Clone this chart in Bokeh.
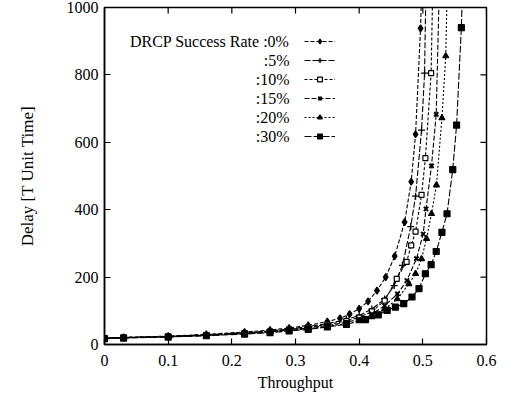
import math
from bokeh.plotting import figure
from bokeh.models import Range1d, FixedTicker, Legend, LegendItem, Label
from bokeh.embed import file_html
from bokeh.resources import INLINE

# ---- data ----
series_names = [":0%", ":5%", ":10%", ":15%", ":20%", ":30%"]
legend_title = "DRCP Success Rate "

x_0 = [0, 0.03, 0.10, 0.16, 0.22, 0.26, 0.29, 0.32, 0.35, 0.37, 0.385, 0.40, 0.414, 0.428, 0.4417, 0.4558, 0.4714, 0.4817, 0.4886, 0.4964, 0.502]
y_0 = [19, 21, 25, 30, 37, 43, 49, 57, 68, 78, 90, 106, 128, 160, 200, 262, 363, 483, 624, 938, 1300]

x_5 = [0, 0.03, 0.10, 0.16, 0.22, 0.26, 0.29, 0.32, 0.35, 0.38, 0.40, 0.42, 0.44, 0.455, 0.468, 0.481, 0.4886, 0.498, 0.5027, 0.507]
y_5 = [19, 21, 24, 29, 35, 40, 46, 53, 62, 74, 86, 105, 135, 175, 235, 350, 440, 636, 805, 1300]

x_10 = [0, 0.03, 0.10, 0.16, 0.22, 0.26, 0.29, 0.32, 0.35, 0.38, 0.40, 0.42, 0.44, 0.459, 0.4745, 0.4817, 0.4886, 0.498, 0.504, 0.513, 0.518]
y_10 = [19, 21, 24, 28, 34, 39, 45, 51, 59, 70, 80, 98, 130, 195, 245, 294, 335, 444, 553, 805, 1300]

x_15 = [0, 0.03, 0.10, 0.16, 0.22, 0.26, 0.29, 0.32, 0.35, 0.38, 0.40, 0.42, 0.44, 0.46, 0.475, 0.49, 0.5005, 0.505, 0.5136, 0.521, 0.529]
y_15 = [18, 20, 23, 27, 33, 38, 43, 49, 56, 66, 75, 90, 115, 150, 190, 255, 328, 402, 530, 683, 1300]

x_20 = [0, 0.03, 0.10, 0.16, 0.22, 0.26, 0.29, 0.32, 0.35, 0.38, 0.40, 0.42, 0.44, 0.46, 0.478, 0.4886, 0.498, 0.5058, 0.5136, 0.5214, 0.530, 0.536, 0.541]
y_20 = [18, 20, 23, 27, 32, 37, 42, 47, 54, 62, 70, 82, 105, 135, 180, 210, 254, 314, 388, 473, 672, 856, 1300]

x_30 = [0, 0.03, 0.10, 0.16, 0.22, 0.26, 0.29, 0.32, 0.35, 0.38, 0.41, 0.43, 0.444, 0.457, 0.470, 0.483, 0.494, 0.504, 0.513, 0.521, 0.530, 0.538, 0.547, 0.553, 0.5605, 0.566]
y_30 = [17, 19, 22, 26, 31, 35, 40, 45, 52, 60, 74, 88, 101, 111, 121, 141, 166, 210, 237, 276, 333, 388, 519, 651, 940, 1300]

x_ticks = [0, 0.1, 0.2, 0.3, 0.4, 0.5, 0.6]
x_tick_labels = ["0", "0.1", "0.2", "0.3", "0.4", "0.5", "0.6"]
y_ticks = [0, 200, 400, 600, 800, 1000]
y_tick_labels = ["0", "200", "400", "600", "800", "1000"]
x_min, x_max = 0, 0.6
y_min, y_max = 0, 1000

series_x = [x_0, x_5, x_10, x_15, x_20, x_30]
series_y = [y_0, y_5, y_10, y_15, y_20, y_30]

# ---- styles ----
markers = ["diamond", "cross", "square", "x", "triangle", "square_x"]
fills = ["black", None, "white", None, "black", "black"]
msizes = [7, 7, 5, 6, 6, 6]
mwidths = [1.2, 1.3, 1.2, 2.0, 1.2, 1.2]
dashes = ["4 2", "6 2", "3 2", "5 2", "2 2", "7 2"]
FONT = "Liberation Serif"

W, H = 500, 393
FL, FR, FT, FB = 104, 486, 7, 345   # frame edges in page pixels

p = figure(width=W, height=H, output_backend="svg", toolbar_location=None,
           x_range=Range1d(x_min, x_max), y_range=Range1d(y_min, y_max),
           min_border_left=FL, min_border_right=W - FR, min_border_top=FT, min_border_bottom=H - FB)
p.grid.visible = False
p.background_fill_color = "white"
p.border_fill_color = "white"
p.outline_line_color = "black"
p.outline_line_width = 1.5

for ax, ticks, labels in ((p.xaxis[0], x_ticks, x_tick_labels), (p.yaxis[0], y_ticks, y_tick_labels)):
    ax.ticker = FixedTicker(ticks=ticks)
    ax.major_label_overrides = dict(zip(ticks, labels))
    ax.minor_tick_line_color = None
    ax.major_tick_in = 6
    ax.major_tick_out = 0
    ax.axis_line_width = 1.5
    ax.major_tick_line_width = 1.2
    ax.major_label_text_font = FONT
    ax.major_label_text_font_size = "16px"
    ax.major_label_text_color = "black"
    ax.axis_label_text_font = FONT
    ax.axis_label_text_font_style = "normal"
    ax.axis_label_text_color = "black"

p.xaxis.axis_label = "Throughput"
p.xaxis.axis_label_text_font_size = "16px"
p.xaxis.major_label_standoff = 10
p.xaxis.axis_label_standoff = 5
p.yaxis.axis_label = "Delay [T Unit Time]"
p.yaxis.axis_label_text_font_size = "17px"
p.yaxis.major_label_standoff = 6
p.yaxis.axis_label_standoff = 27

# mirrored inward ticks on the top and right edges (dash markers clipped by the frame)
p.scatter(x_ticks, [y_max] * len(x_ticks), marker="dash", size=12, angle=math.pi / 2,
          line_color="black", line_width=1.2)
p.scatter([x_max] * len(y_ticks), y_ticks, marker="dash", size=12,
          line_color="black", line_width=1.2)

items = []
for i in range(len(series_names)):
    ln = p.line(series_x[i], series_y[i], line_color="black", line_width=1.1, line_dash=dashes[i])
    sc = p.scatter(series_x[i], series_y[i], marker=markers[i], size=msizes[i],
                   line_color="black", fill_color=fills[i], line_width=mwidths[i])
    items.append(LegendItem(label=" ", renderers=[ln, sc]))

# legend samples: rows centred 41.5 + 19*i px from the top of the page
legend = Legend(items=items, location=(304 - FL, FB - 143), orientation="vertical",
                glyph_width=31, glyph_height=12, label_height=12, label_width=0,
                label_standoff=0, spacing=7, padding=0, margin=0,
                border_line_color=None, background_fill_alpha=0,
                label_text_font=FONT, label_text_font_size="16px")
p.add_layout(legend, "center")

# legend texts, right aligned, left of the samples
for i, name in enumerate(series_names):
    txt = (legend_title + name) if i == 0 else name
    row_px = 41.5 + 19 * i
    p.add_layout(Label(x=289 - FL, y=FB - row_px, x_units="screen", y_units="screen",
                       text=txt, text_font=FONT, text_font_size="16px", text_color="black",
                       text_align="right", text_baseline="middle"))

open("out.html", "w").write(file_html(p, INLINE))
